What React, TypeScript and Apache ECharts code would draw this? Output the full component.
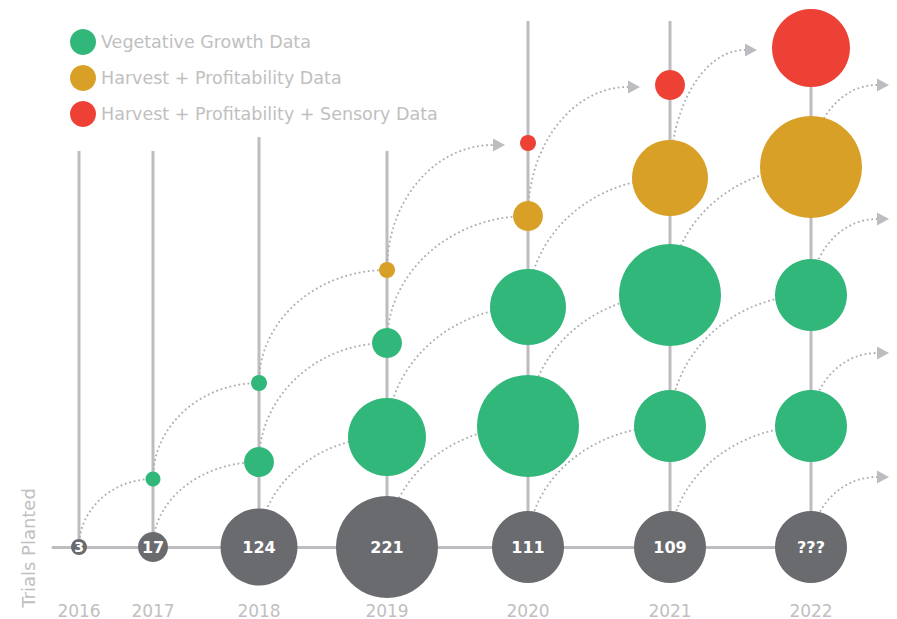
import React, { useEffect, useRef } from 'react';
import * as echarts from 'echarts';

// ---- data ----
const years = ['2016', '2017', '2018', '2019', '2020', '2021', '2022'];
const yearPosition = [26, 100, 206, 334, 475, 617, 758];
const trialsPlanted = ['3', '17', '124', '221', '111', '109', '???'];
const trialsBubble = [16, 30, 77, 102, 72, 72, 72];

const vegetativeLowerHeight = [null, 68, 85, 110, 121, 121, 121];
const vegetativeLowerBubble = [null, 15, 30, 78, 102, 72, 72];
const vegetativeUpperHeight = [null, null, 164, 204, 240, 252, 252];
const vegetativeUpperBubble = [null, null, 16, 30, 76, 102, 72];
const harvestHeight = [null, null, null, 277, 331, 369, 380];
const harvestBubble = [null, null, null, 16, 30, 76, 102];
const sensoryHeight = [null, null, null, null, 404, 462, 499];
const sensoryBubble = [null, null, null, null, 16, 30, 78];

const stemTop = [396, 396, 410, 396, 526, 526, 499];
const nextSeasonHeight = [72, 196, 330, 464];
const nextSeasonTip = 836;

const trialsHeight = years.map(() => 0);

const GREEN = '#31b77a';
const ORANGE = '#d9a027';
const RED = '#ee4136';
const GRAY = '#6a6b6f';
const LINE = '#bdbdc1';
const DOT = '#adadb1';
const TEXT = '#c0c0c0';
const FONT = '"DejaVu Sans", sans-serif';

const levels = [
  { h: trialsHeight, s: trialsBubble },
  { h: vegetativeLowerHeight, s: vegetativeLowerBubble },
  { h: vegetativeUpperHeight, s: vegetativeUpperBubble },
  { h: harvestHeight, s: harvestBubble },
  { h: sensoryHeight, s: sensoryBubble },
];

function points(h: (number | null)[], s: (number | null)[]) {
  const out: any[] = [];
  h.forEach((v, i) => {
    if (v != null && s[i] != null) out.push([yearPosition[i], v, s[i], i]);
  });
  return out;
}

function buildLinks() {
  const links: number[][] = [];
  for (let i = 0; i < years.length; i++) {
    for (let k = 0; k < levels.length - 1; k++) {
      const h0 = levels[k].h[i];
      if (h0 == null) continue;
      if (i < years.length - 1) {
        const h1 = levels[k + 1].h[i + 1];
        if (h1 == null) continue;
        const isArrow = k + 1 === levels.length - 1 ? 1 : 0;
        const gap = isArrow ? (levels[k + 1].s[i + 1] as number) / 2 + 15 : 0;
        links.push([yearPosition[i], h0, yearPosition[i + 1], h1, isArrow, gap]);
      } else {
        links.push([yearPosition[i], h0, nextSeasonTip, nextSeasonHeight[k], 1, 0]);
      }
    }
  }
  return links;
}

export default function App() {
  const ref = useRef<HTMLDivElement>(null);

  useEffect(() => {
    const chart = echarts.init(ref.current!, null, { renderer: 'svg' });

    const scatterBase = {
      type: 'scatter',
      symbol: 'circle',
      symbolSize: (v: any) => v[2],
      z: 5,
      emphasis: { disabled: true },
      clip: false,
    };

    const option: any = {
      animation: false,
      grid: { left: 53, right: 86, top: 0, bottom: 72, containLabel: false, outerBoundsMode: 'none' },
      xAxis: {
        type: 'value',
        min: 0,
        max: 758,
        splitLine: { show: false },
        axisTick: { show: false },
        axisLine: { show: true, lineStyle: { color: LINE, width: 3 } },
        axisLabel: {
          customValues: yearPosition,
          formatter: (v: number) => years[yearPosition.indexOf(v)] ?? '',
          margin: 55,
          color: TEXT,
          fontSize: 17,
          fontFamily: FONT,
        },
      },
      yAxis: { type: 'value', min: 0, max: 547, show: false },
      legend: {
        orient: 'vertical',
        left: 70,
        top: 29,
        padding: 0,
        itemWidth: 26,
        itemHeight: 26,
        itemGap: 10,
        icon: 'circle',
        selectedMode: false,
        data: ['Vegetative Growth Data', 'Harvest + Profitability Data', 'Harvest + Profitability + Sensory Data'],
        textStyle: { color: TEXT, fontSize: 17.5, fontFamily: FONT },
      },
      graphic: [
        {
          type: 'text',
          x: 28,
          y: 548,
          rotation: Math.PI / 2,
          style: {
            text: 'Trials Planted',
            fill: TEXT,
            fontSize: 18,
            fontFamily: FONT,
            textAlign: 'center',
            textVerticalAlign: 'middle',
          },
        },
      ],
      series: [
        {
          type: 'custom',
          name: 'stems',
          z: 1,
          silent: true,
          clip: false,
          data: yearPosition.map((x, i) => [x, stemTop[i]]),
          encode: { x: 0, y: 1 },
          renderItem: (params: any, api: any) => {
            const p0 = api.coord([api.value(0), 0]);
            const p1 = api.coord([api.value(0), api.value(1)]);
            return {
              type: 'line',
              shape: { x1: p0[0], y1: p0[1], x2: p1[0], y2: p1[1] },
              style: { stroke: LINE, lineWidth: 3 },
            };
          },
        },
        {
          type: 'custom',
          name: 'links',
          z: 2,
          silent: true,
          clip: false,
          data: buildLinks(),
          dimensions: ['x0', 'y0', 'x1', 'y1', 'arrow', 'gap'],
          encode: { x: [0, 2], y: [1, 3] },
          renderItem: (params: any, api: any) => {
            const p0 = api.coord([api.value(0), api.value(1)]);
            const p1 = api.coord([api.value(2), api.value(3)]);
            const arrow = api.value(4);
            const gap = api.value(5);
            let ex = p1[0];
            let ey = p1[1];
            const children: any[] = [];
            if (arrow) {
              const tip = p1[0] - gap;
              ey = p1[1] + 2;
              ex = tip - 12;
              children.push({
                type: 'polygon',
                shape: { points: [[ex, ey - 6.5], [tip, ey], [ex, ey + 6.5]] },
                style: { fill: LINE },
              });
            }
            const k = 0.5523;
            const a = ex - p0[0];
            const b = p0[1] - ey;
            children.unshift({
              type: 'bezierCurve',
              shape: {
                x1: p0[0], y1: p0[1], x2: ex, y2: ey,
                cpx1: p0[0], cpy1: p0[1] - k * b,
                cpx2: ex - k * a, cpy2: ey,
              },
              style: { stroke: DOT, lineWidth: 1.8, lineDash: [1.8, 2.8], fill: 'none' },
            });
            return { type: 'group', children };
          },
        },
        {
          ...scatterBase,
          name: 'Trials Planted',
          itemStyle: { color: GRAY, opacity: 1 },
          data: points(trialsHeight, trialsBubble).map((d) => ({
            value: d,
            label: { fontSize: d[2] < 20 ? 14 : 16 },
          })),
          label: {
            show: true,
            position: 'inside',
            formatter: (p: any) => trialsPlanted[p.value[3]],
            color: '#ffffff',
            fontWeight: 'bold',
            fontSize: 16,
            fontFamily: '"DejaVu Sans", sans-serif',
            textBorderColor: GRAY,
            textBorderWidth: 2,
          },
        },
        {
          ...scatterBase,
          name: 'Vegetative Growth Data',
          itemStyle: { color: GREEN, opacity: 1 },
          data: [...points(vegetativeLowerHeight, vegetativeLowerBubble), ...points(vegetativeUpperHeight, vegetativeUpperBubble)],
        },
        {
          ...scatterBase,
          name: 'Harvest + Profitability Data',
          itemStyle: { color: ORANGE, opacity: 1 },
          data: points(harvestHeight, harvestBubble),
        },
        {
          ...scatterBase,
          name: 'Harvest + Profitability + Sensory Data',
          itemStyle: { color: RED, opacity: 1 },
          data: points(sensoryHeight, sensoryBubble),
        },
      ],
    };

    chart.setOption(option);
    return () => chart.dispose();
  }, []);

  return (
    <div
      ref={ref}
      style={{ position: 'fixed', left: 0, top: 0, width: 897, height: 619, background: '#ffffff' }}
    />
  );
}
